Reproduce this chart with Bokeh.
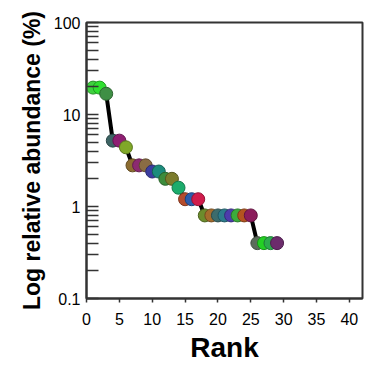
from bokeh.plotting import figure
from bokeh.models import ColumnDataSource, FixedTicker, Range1d
from bokeh.embed import file_html
from bokeh.resources import INLINE

rank = list(range(1, 30))
abundance = [19.6, 19.6, 16.8, 5.2, 5.2, 4.4, 2.8, 2.8, 2.8, 2.4, 2.4, 2.0, 2.0, 1.6,
             1.2, 1.2, 1.2, 0.8, 0.8, 0.8, 0.8, 0.8, 0.8, 0.8, 0.8, 0.4, 0.4, 0.4, 0.4]
colors = ["#3fd13f", "#2fe02f", "#3f8f45", "#3d6464", "#8e1f72", "#80a828",
          "#8c6c30", "#8c2a70", "#8a6c44", "#3c3ca0", "#1c8c7c", "#3c8c3c",
          "#7c7c2c", "#1cac6c", "#b44c2c", "#2c5cac", "#d01c4c", "#6c8c2c",
          "#a46c2c", "#3c6c6c", "#2c7c8c", "#4c3cac", "#3cac3c", "#b4541f",
          "#8c1c5c", "#5c6c5c", "#24d024", "#2cac4c", "#6c2c6c"]
x_ticks = [0, 5, 10, 15, 20, 25, 30, 35, 40]
y_ticks = [0.1, 1, 10, 100]


def darken(h, f=0.7):
    r, g, b = int(h[1:3], 16), int(h[3:5], 16), int(h[5:7], 16)
    return "#%02x%02x%02x" % (int(r * f), int(g * f), int(b * f))


src = ColumnDataSource(dict(x=rank, y=abundance, c=colors, lc=[darken(c) for c in colors]))

p = figure(width=383, height=366, y_axis_type="log", output_backend="svg",
           toolbar_location=None, x_range=Range1d(0, 42), y_range=Range1d(0.1, 100),
           min_border_left=86, min_border_right=21, min_border_top=22, min_border_bottom=68)
p.background_fill_color = "white"
p.border_fill_color = "white"
p.outline_line_color = "#333333"
p.outline_line_width = 2
p.grid.visible = False

p.line("x", "y", source=src, line_color="black", line_width=4)
p.scatter("x", "y", source=src, size=13, fill_color="c", line_color="lc", line_width=1)

font = "Liberation Sans"
for ax in (p.xaxis, p.yaxis):
    ax.axis_line_color = "#333333"
    ax.axis_line_width = 2
    ax.major_tick_line_color = "#333333"
    ax.major_tick_line_width = 1.5
    ax.minor_tick_line_width = 1.5
    ax.major_label_text_font = font
    ax.major_label_text_font_size = "16px"
    ax.major_label_text_color = "black"
    ax.axis_label_text_font = font
    ax.axis_label_text_color = "black"

p.xaxis.ticker = FixedTicker(ticks=x_ticks)
p.xaxis.major_tick_in = 0
p.xaxis.major_tick_out = 4
p.xaxis.minor_tick_line_color = None
p.xaxis.major_label_standoff = 10
p.xaxis.axis_label = "Rank"
p.xaxis.axis_label_text_font_size = "28px"
p.xaxis.axis_label_text_font_style = "bold"
p.xaxis.axis_label_standoff = 4

p.yaxis.ticker = FixedTicker(ticks=y_ticks, minor_ticks=[k * 10 ** e for e in (-1, 0, 1) for k in range(2, 10)])
p.yaxis.major_tick_in = 12
p.yaxis.major_tick_out = 0
p.yaxis.minor_tick_in = 12
p.yaxis.minor_tick_out = 0
p.yaxis.minor_tick_line_color = "#333333"
p.yaxis.major_label_standoff = 6
p.yaxis.axis_label = "Log relative abundance (%)"
p.yaxis.axis_label_text_font_size = "23px"
p.yaxis.axis_label_text_font_style = "bold"
p.yaxis.axis_label_standoff = 6
p.yaxis.major_label_overrides = {0.1: "0.1", 1: "1", 10: "10", 100: "100"}

open("out.html", "w").write(file_html(p, INLINE))
